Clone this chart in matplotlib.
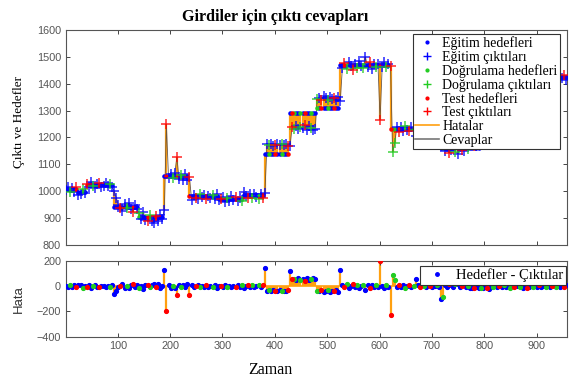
import numpy as np
import matplotlib
matplotlib.use("Agg")
import matplotlib.pyplot as plt
from matplotlib.lines import Line2D

# time steps sampled every 4th step
TIME = np.arange(1, 958, 4)

# target step levels (start time, level)
SEG_START = [1, 25, 41, 93, 141, 189, 237, 293, 341, 381, 429, 481, 525, 621, 669, 717, 793, 901]
SEG_LEVEL = [1008, 998, 1022, 942, 902, 1055, 980, 971, 984, 1138, 1292, 1308, 1469, 1232, 1265, 1160, 1300, 1425]

# errors = target - output
ERRORS = [
    5, -8, 10, -4, 12, -6, 14, 8, -10, 6,
    -5, 8, -12, 4, 10, -3, -9, 6, 3, -7,
    3, -6, 8, -60, -34, -8, 6, 15, -10, 4,
    -12, 7, 18, -5, 10, -15, 6, -20, 9, 14,
    -8, 12, 22, -6, 15, -10, 5, 127, -193, 8,
    -10, 6, -14, -71, 10, -5, 12, -8, 15, -71,
    12, -6, 4, 9, -8, 3, -5, 10, -3, 6,
    -4, 8, -10, 5, 2, -7, 11, -3, 6, -9,
    4, -6, 9, -2, 7, -11, 3, 8, -5, 10,
    -7, 5, 12, -4, 8, 146, -36, -33, -38, -30,
    -35, -37, -32, -36, -34, -39, -31, 124, 55, 60,
    48, 62, 52, 58, 45, 63, 50, 57, 66, 60,
    -36, -40, -32, -45, -38, -30, -42, -35, -39, -33,
    -44, 132, 10, -8, 15, -12, 5, 18, -6, 9,
    -15, 4, 12, -30, 7, -10, 14, -5, 8, -3,
    204, 6, -10, 8, -4, -232, 87, 53, -8, 12,
    -5, 9, -12, 4, 10, -6, 3, 60, 8, -5,
    12, 3, -7, 10, 4, -3, 6, 9, -4, -100,
    -85, 12, -6, 18, 8, -4, 15, 20, -3, 6,
    10, -8, 5, -12, -10, -15, -8, -12, -10, -14,
    -6, -12, -18, -9, -4, 5, -8, 3, -6, 7,
    -4, 2, -10, 6, -5, 4, 3, -6, -12, -8,
    -14, -5, 4, -9, 6, -3, 8, -6, 4, -7,
    5, -4, 3, 6, -5, 8, -3, 5, -6, 10,
]

# a = egitim (train), v = dogrulama (validation), t = test
SETS = "".join([
    "aavaataava", "taavaataaa", "avaaaataav", "aataavaaat", "vaataaaata",
    "avatavaaat", "aatavaataa", "vaaataavaa", "ataavaatav", "aavataavaa",
    "taavaatatv", "aavataavaa", "vataavaata", "aaatvaatav", "aavaataava",
    "taavatvvat", "aavatavaat", "avaataavaa", "vaataavaat", "aavaataava",
    "ataavaatav", "aavataavaa", "taavaataav", "aatavaaata",
])

SET_COLORS = {"a": "#0000ff", "v": "#22cc22", "t": "#ff0000"}
ORANGE = "#ffa010"

level_idx = np.searchsorted(SEG_START, TIME, side="right") - 1
targets = np.array(SEG_LEVEL)[level_idx]
errors = np.array(ERRORS)
outputs = targets - errors
sets = np.array(list(SETS))

fig = plt.figure(figsize=(5.78, 3.79), dpi=100)
ax1 = fig.add_axes([0.114, 0.354, 0.867, 0.567])
ax2 = fig.add_axes([0.114, 0.112, 0.867, 0.199])

serif = "Liberation Serif"
sans = "Liberation Sans"

# upper panel
ax1.vlines(TIME, targets, outputs, color=ORANGE, lw=1.6, zorder=1)
ax1.plot(TIME, outputs, color="#6b5540", lw=0.6, zorder=2)
for s in "avt":
    m = sets == s
    ax1.plot(TIME[m], targets[m], ".", color=SET_COLORS[s], ms=4.5, zorder=3)
    ax1.plot(TIME[m], outputs[m], "+", color=SET_COLORS[s], ms=6.5, mew=1.1, zorder=4, alpha=0.85)

ax1.set_xlim(1, 958)
ax1.set_ylim(800, 1600)
ax1.set_yticks(range(800, 1601, 100))
ax1.set_xticks(range(100, 901, 100))
ax1.set_xticklabels([])

handles = []
for s in "avt":
    handles.append(Line2D([], [], ls="none", marker=".", color=SET_COLORS[s], ms=4))
    handles.append(Line2D([], [], ls="none", marker="+", color=SET_COLORS[s], ms=6))
handles.append(Line2D([], [], color=ORANGE, lw=1.2))
handles.append(Line2D([], [], color="#777777", lw=1.2))
labels = ["Eğitim hedefleri", "Eğitim çıktıları", "Doğrulama hedefleri", "Doğrulama çıktıları",
          "Test hedefleri", "Test çıktıları", "Hatalar", "Cevaplar"]
leg = ax1.legend(handles, labels, loc="upper right", bbox_to_anchor=(0.985, 0.98),
                 prop={"family": serif, "size": 10}, frameon=True, fancybox=False,
                 framealpha=1, edgecolor="#333333", borderpad=0.15, labelspacing=0.05,
                 handlelength=1.7, handletextpad=0.25, borderaxespad=0)
leg.get_frame().set_linewidth(0.8)
leg.set_zorder(10)

# lower panel
ax2.vlines(TIME, 0, errors, color=ORANGE, lw=1.6, zorder=1)
ax2.axhline(0, color=ORANGE, lw=1.2, zorder=1)
for s in "avt":
    m = sets == s
    ax2.plot(TIME[m], errors[m], ".", color=SET_COLORS[s], ms=5.5, zorder=3)
ax2.set_xlim(1, 958)
ax2.set_ylim(-400, 200)
ax2.set_yticks([-400, -200, 0, 200])
ax2.set_xticks(range(100, 901, 100))
leg2 = ax2.legend([Line2D([], [], ls="none", marker=".", color="#0000ff", ms=5)],
                  ["Hedefler - Çıktılar"], loc="upper right", bbox_to_anchor=(0.997, 0.93),
                  prop={"family": serif, "size": 10.5}, frameon=True, fancybox=False,
                  framealpha=1, edgecolor="#333333", borderpad=0.15, handlelength=2.0,
                  handletextpad=0.3, borderaxespad=0)
leg2.get_frame().set_linewidth(0.8)

for ax in (ax1, ax2):
    ax.tick_params(direction="in", top=True, right=True, length=3, width=0.7,
                   labelsize=7.8, labelcolor="#555555", color="#444444")
    for lab in ax.get_xticklabels() + ax.get_yticklabels():
        lab.set_family(sans)
    for sp in ax.spines.values():
        sp.set_color("#555555")
        sp.set_linewidth(0.8)

fig.text(275 / 578, 1 - 17 / 379, "Girdiler için çıktı cevapları", ha="center", va="center",
         family=serif, fontweight="bold", fontsize=11.5)
fig.text(19 / 578, 1 - 122 / 379, "Çıktı ve Hedefler", rotation=90, ha="center", va="center",
         family=serif, fontsize=9.5)
fig.text(19 / 578, 1 - 299 / 379, "Hata", rotation=90, ha="center", va="center",
         family=sans, fontsize=9.5, color="#333333")
fig.text(270 / 578, 1 - 370 / 379, "Zaman", ha="center", va="center", family=serif, fontsize=11.5)

fig.savefig("out.png", dpi=100)
